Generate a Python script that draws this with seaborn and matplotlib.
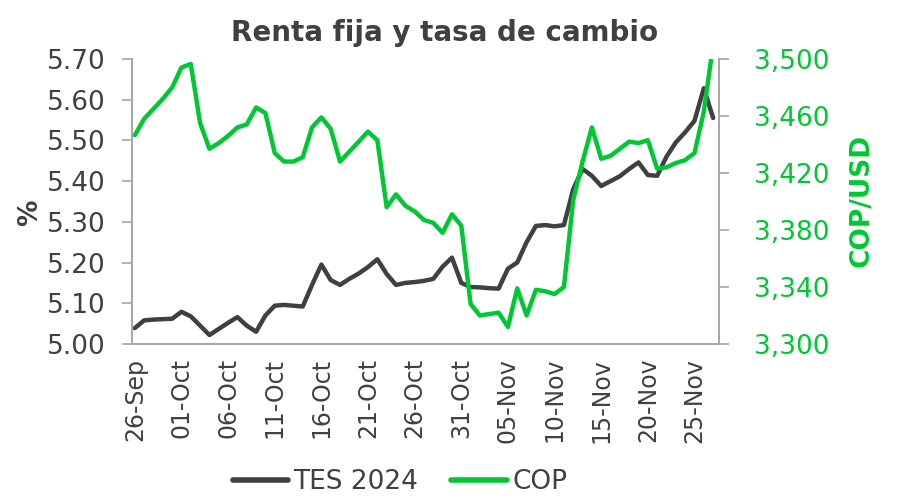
import numpy as np
import pandas as pd
import matplotlib
matplotlib.use("Agg")
import matplotlib.pyplot as plt
import matplotlib.dates as mdates
from matplotlib.ticker import FuncFormatter
from matplotlib.lines import Line2D
import seaborn as sns

# Daily data, 26-Sep-2024 to 27-Nov-2024
dates = pd.date_range("2024-09-26", "2024-11-27", freq="D")

tes_2024 = [5.039, 5.058, 5.060, 5.061, 5.062, 5.079, 5.068, 5.045, 5.022, 5.037,
            5.052, 5.066, 5.045, 5.030, 5.070, 5.094, 5.096, 5.094, 5.092, 5.145,
            5.195, 5.157, 5.145, 5.160, 5.173, 5.189, 5.208, 5.172, 5.145, 5.150,
            5.152, 5.155, 5.160, 5.190, 5.212, 5.150, 5.140, 5.139, 5.137, 5.136,
            5.185, 5.200, 5.250, 5.290, 5.292, 5.289, 5.292, 5.380, 5.430, 5.413,
            5.388, 5.400, 5.412, 5.430, 5.446, 5.415, 5.413, 5.460, 5.495, 5.520,
            5.548, 5.628, 5.555]

cop = [3446.5, 3458, 3465, 3472, 3480, 3494, 3496.5, 3455, 3437, 3441,
       3446, 3452, 3454, 3466, 3462, 3434, 3428, 3428, 3431, 3452,
       3459, 3451, 3428, 3435, 3442, 3449, 3443, 3396, 3405, 3397,
       3393, 3387, 3385, 3378, 3391, 3383, 3328, 3320, 3321, 3322,
       3312, 3339, 3320, 3338, 3337, 3335, 3340, 3401, 3428, 3452,
       3430, 3432, 3437, 3442, 3441, 3443, 3423, 3424, 3427, 3429,
       3434, 3463, 3510]

left_ticks = [5.00, 5.10, 5.20, 5.30, 5.40, 5.50, 5.60, 5.70]
right_ticks = [3300, 3340, 3380, 3420, 3460, 3500]

title = "Renta fija y tasa de cambio"
left_label = "%"
right_label = "COP/USD"

dark = "#404040"
green = "#00C832"
axis_gray = "#A6A6A6"

sns.set_style("white")
plt.rcParams["font.family"] = ["DejaVu Sans"]

df = pd.DataFrame({"fecha": dates, "TES 2024": tes_2024, "COP": cop})

fig = plt.figure(figsize=(8.99, 5.04), dpi=100)
ax = fig.add_axes([0.1465, 0.3175, 0.6535, 0.5655])
ax2 = ax.twinx()

sns.lineplot(data=df, x="fecha", y="TES 2024", ax=ax, color=dark, linewidth=3.2)
sns.lineplot(data=df, x="fecha", y="COP", ax=ax2, color=green, linewidth=3.2)

# x axis
start = pd.Timestamp("2024-09-26")
ax.set_xlim(start - pd.Timedelta(hours=8), start + pd.Timedelta(days=62.65))
ax.set_xticks(pd.date_range(start, periods=13, freq="5D"))
ax.xaxis.set_major_formatter(mdates.DateFormatter("%d-%b"))
ax.tick_params(axis="x", labelrotation=90, labelsize=17, colors=axis_gray,
               labelcolor=dark, length=6, width=1.2, direction="out", pad=4)
ax.set_xlabel("")

# left axis
ax.set_ylim(5.0, 5.7)
ax.set_yticks(left_ticks)
ax.yaxis.set_major_formatter(FuncFormatter(lambda v, p: f"{v:.2f}"))
ax.tick_params(axis="y", labelsize=19, colors=axis_gray, labelcolor=dark,
               length=7, width=1.2, direction="out", pad=12)
ax.set_ylabel(left_label, fontsize=19, fontweight="bold", color=dark)
ax.yaxis.set_label_coords(-0.151, 0.461)

# right axis
ax2.set_ylim(3300, 3500)
ax2.set_yticks(right_ticks)
ax2.yaxis.set_major_formatter(FuncFormatter(lambda v, p: f"{v:,.0f}"))
ax2.tick_params(axis="y", labelsize=19, colors=axis_gray, labelcolor=green,
                length=7, width=1.2, direction="out", pad=18)
ax2.set_ylabel(right_label, fontsize=19, fontweight="bold", color=green)
ax2.yaxis.set_label_coords(1.220, 0.502)

for a in (ax, ax2):
    a.spines["top"].set_visible(False)
    for s in ("left", "right", "bottom"):
        a.spines[s].set_color(axis_gray)
        a.spines[s].set_linewidth(1.2)
    a.grid(False)

fig.text(0.494, 0.935, title, ha="center", va="center", fontsize=20,
         fontweight="bold", color=dark)

handles = [Line2D([0], [0], color=dark, lw=4),
           Line2D([0], [0], color=green, lw=4)]
fig.legend(handles, ["TES 2024", "COP"], loc="lower center", bbox_to_anchor=(0.445, -0.008),
           ncol=2, frameon=False, fontsize=19, handlelength=2.1, handletextpad=0.2,
           columnspacing=1.25, labelcolor=dark, borderpad=0)

fig.savefig("out.png", dpi=100)
